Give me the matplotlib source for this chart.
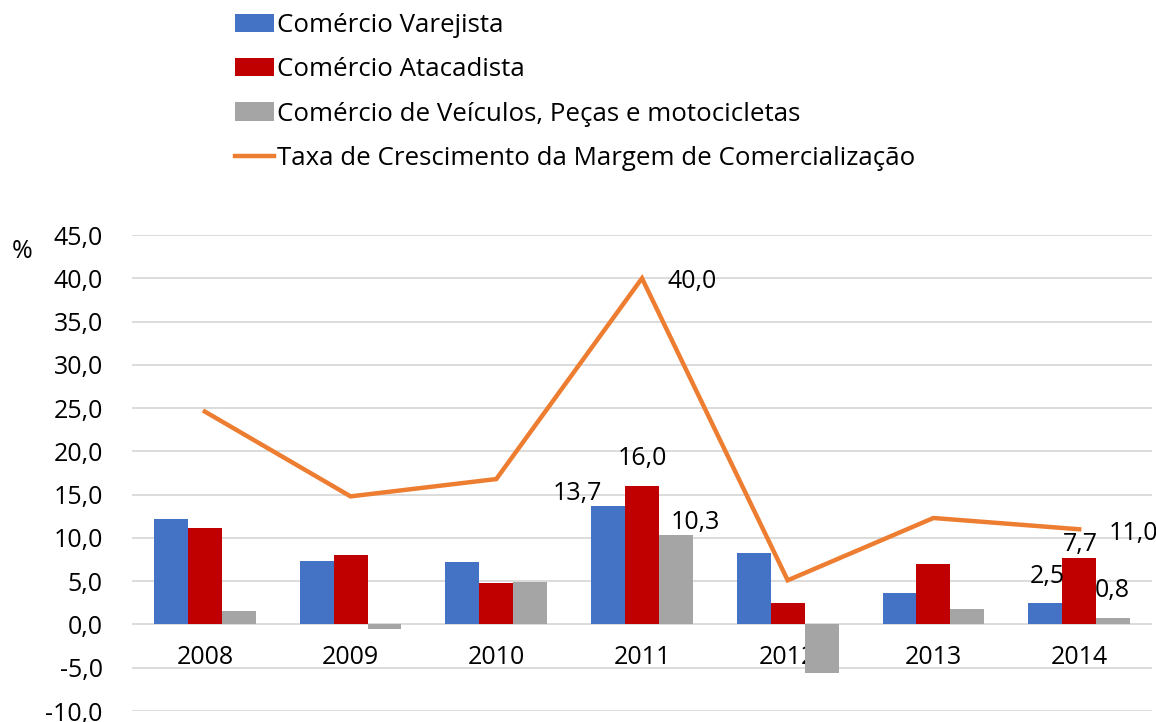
import matplotlib
matplotlib.use("Agg")
import matplotlib.pyplot as plt
import numpy as np

years = ["2008", "2009", "2010", "2011", "2012", "2013", "2014"]
varejista = [12.2, 7.3, 7.2, 13.7, 8.3, 3.6, 2.5]
atacadista = [11.1, 8.0, 4.8, 16.0, 2.5, 7.0, 7.7]
veiculos = [1.5, -0.5, 4.9, 10.3, -5.6, 1.8, 0.8]
margem = [24.6, 14.8, 16.8, 40.0, 5.1, 12.3, 11.0]
yticks = [-10, -5, 0, 5, 10, 15, 20, 25, 30, 35, 40, 45]

names = ["Comércio Varejista", "Comércio Atacadista",
         "Comércio de Veículos, Peças e motocicletas",
         "Taxa de Crescimento da Margem de Comercialização"]
colors = ["#4472C4", "#C00000", "#A5A5A5", "#ED7D31"]

plt.rcParams['font.family'] = ['Open Sans', 'DejaVu Sans']
FS = 18

fig = plt.figure(figsize=(11.56, 7.22), dpi=100)
ax = fig.add_axes([132/1156, 1-711/722, 1020/1156, 476/722])

x = np.arange(len(years))
w = 0.233
b1 = ax.bar(x - w, varejista, w, color=colors[0], label=names[0], zorder=3)
b2 = ax.bar(x, atacadista, w, color=colors[1], label=names[1], zorder=3)
b3 = ax.bar(x + w, veiculos, w, color=colors[2], label=names[2], zorder=3)
ln, = ax.plot(x, margem, color=colors[3], lw=3.2, label=names[3], zorder=4,
              solid_joinstyle='miter')

ax.set_xlim(-0.5, len(years) - 0.5)
ax.set_ylim(-10, 45)
ax.spines['bottom'].set_position(('data', 0))
for s in ax.spines.values():
    s.set_visible(False)
ax.set_yticks(yticks)
ax.set_yticklabels([f"{v:.1f}".replace(".", ",") for v in yticks])
ax.set_xticks(x)
ax.set_xticklabels(years)
ax.tick_params(axis='both', length=0, labelsize=FS)
ax.tick_params(axis='y', pad=21)
ax.tick_params(axis='x', pad=15)
ax.grid(axis='y', color='#D9D9D9', lw=1.3, zorder=0)
ax.set_axisbelow(True)

ax.set_ylabel('%', rotation=0, fontsize=FS, va='center', ha='center')
ax.yaxis.set_label_coords(-0.108, 0.966)

def fmt(v):
    return f"{v:.1f}".replace(".", ",")

px = 1/1.389
# (x, y, dx_px, dy_px)
labels = [
    (3 - w, varejista[3], -31, -12),
    (3, atacadista[3], 0, -27),
    (3 + w, veiculos[3], 19, -13),
    (3, margem[3], 50, 3),
    (6 - w, varejista[6], 2, -26),
    (6, atacadista[6], 1, -13),
    (6 + w, veiculos[6], -1, -27),
    (6, margem[6], 54, 4),
]
for xx, yy, dx, dy in labels:
    ax.annotate(fmt(yy), (xx, yy), xytext=(dx*px, -dy*px), textcoords='offset points',
                ha='center', va='center', fontsize=FS, zorder=5)

fig.legend(handles=[b1, b2, b3, ln], labels=names, loc='upper left',
           bbox_to_anchor=(225/1156, 1 - 3/722), frameon=False, fontsize=18.6,
           handlelength=1.5, handletextpad=0.12, labelspacing=0.74,
           borderaxespad=0)

fig.savefig("out.png", dpi=100)
